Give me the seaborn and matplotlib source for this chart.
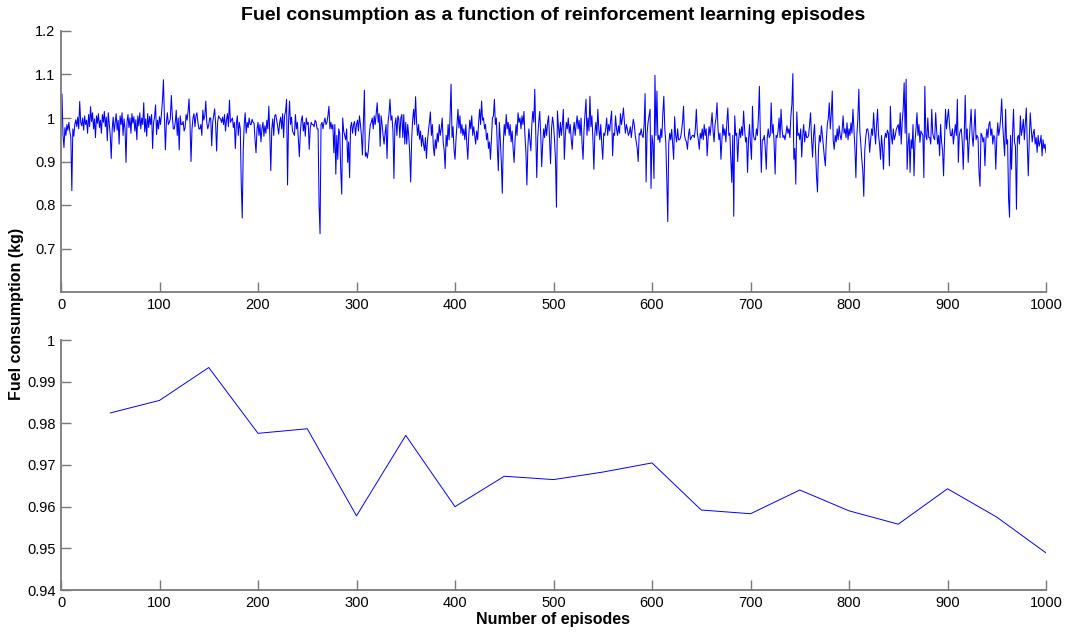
import numpy as np
import pandas as pd
import matplotlib
matplotlib.use("Agg")
import matplotlib.pyplot as plt
import seaborn as sns

# Fuel used in each training episode, in grams (episodes 1..1000)
fuel_per_episode_g = [
    1055, 962, 932, 978, 960, 985, 972, 990, 968, 955,
    833, 975, 958, 985, 996, 980, 1002, 975, 1038, 990,
    982, 1000, 972, 1005, 985, 995, 965, 1008, 980, 1026,
    992, 1012, 975, 998, 955, 1005, 988, 1010, 978, 995,
    965, 1008, 990, 1015, 980, 1002, 948, 1012, 985, 960,
    907, 975, 1002, 968, 990, 1010, 972, 995, 940, 1005,
    985, 1012, 960, 998, 975, 898, 990, 1008, 978, 1000,
    965, 1010, 988, 1003, 970, 996, 950, 1005, 982, 1012,
    975, 1000, 985, 1035, 968, 998, 958, 1010, 978, 1004,
    985, 1008, 930, 990, 1002, 1030, 962, 995, 975, 1003,
    985, 1010, 1040, 1088, 1000, 927, 990, 1012, 985, 990,
    998, 1052, 1005, 975, 975, 990, 1018, 960, 1000, 927,
    1005, 985, 985, 992, 970, 978, 1008, 995, 1015, 1044,
    985, 900, 975, 1000, 1010, 980, 1005, 1012, 990, 975,
    975, 985, 960, 1018, 995, 1005, 1039, 990, 975, 985,
    1000, 1000, 936, 990, 1005, 1021, 985, 924, 990, 1005,
    1000, 998, 990, 1002, 985, 1008, 970, 995, 1010, 980,
    1041, 990, 995, 1000, 978, 990, 930, 985, 1005, 960,
    990, 975, 850, 770, 925, 985, 1012, 965, 990, 978,
    1000, 985, 985, 997, 990, 988, 950, 920, 975, 990,
    960, 985, 945, 975, 990, 958, 982, 965, 995, 975,
    1027, 960, 879, 975, 998, 960, 1005, 1008, 995, 980,
    963, 990, 1002, 975, 1010, 955, 1005, 1015, 1043, 846,
    990, 1039, 985, 1002, 970, 965, 960, 1008, 975, 990,
    950, 911, 968, 995, 1005, 970, 990, 958, 1000, 985,
    990, 928, 975, 990, 985, 985, 980, 995, 990, 975,
    975, 800, 734, 985, 990, 975, 990, 1000, 985, 990,
    1005, 1027, 975, 990, 975, 985, 920, 985, 871, 960,
    905, 975, 965, 880, 825, 1000, 970, 960, 950, 975,
    898, 945, 863, 980, 990, 965, 985, 992, 960, 985,
    995, 970, 1005, 985, 960, 915, 990, 1064, 912, 920,
    908, 925, 960, 985, 990, 1000, 975, 1005, 985, 1010,
    1035, 990, 1010, 935, 1005, 985, 960, 940, 965, 985,
    907, 990, 1010, 1043, 995, 1005, 970, 861, 985, 1000,
    960, 1005, 997, 955, 1000, 1008, 955, 1008, 940, 990,
    940, 985, 960, 920, 853, 950, 995, 1020, 985, 1049,
    990, 960, 985, 951, 970, 935, 960, 940, 925, 955,
    907, 945, 970, 990, 1014, 960, 985, 935, 913, 950,
    930, 965, 945, 985, 960, 975, 1000, 945, 925, 884,
    960, 935, 985, 950, 1005, 1078, 955, 980, 928, 905,
    950, 985, 1020, 977, 1005, 965, 985, 960, 975, 950,
    985, 940, 905, 960, 995, 975, 1005, 960, 980, 960,
    940, 970, 950, 990, 1020, 985, 1039, 995, 1000, 975,
    985, 950, 965, 930, 945, 905, 950, 1000, 1005, 1043,
    985, 1000, 930, 879, 990, 950, 900, 827, 940, 985,
    960, 1008, 975, 990, 960, 985, 945, 970, 930, 898,
    950, 985, 960, 1012, 990, 1000, 975, 1005, 985, 1015,
    960, 920, 846, 935, 975, 950, 925, 985, 1015, 990,
    1066, 960, 863, 955, 990, 1015, 965, 888, 940, 975,
    955, 985, 960, 990, 1005, 950, 895, 975, 1002, 985,
    951, 905, 795, 1016, 980, 955, 990, 960, 985, 1020,
    905, 960, 990, 975, 1000, 965, 985, 950, 928, 970,
    990, 960, 985, 1005, 975, 995, 960, 1000, 940, 905,
    975, 1010, 1043, 960, 1000, 970, 1050, 980, 1005, 950,
    882, 965, 990, 960, 1020, 975, 950, 985, 940, 905,
    965, 960, 975, 1000, 960, 985, 970, 995, 1016, 913,
    965, 960, 1005, 975, 960, 982, 965, 1010, 985, 1000,
    1023, 990, 965, 985, 975, 960, 966, 980, 955, 975,
    997, 985, 960, 945, 930, 900, 965, 961, 975, 960,
    955, 985, 1056, 853, 965, 990, 1005, 1020, 838, 960,
    940, 861, 1098, 960, 1062, 950, 960, 944, 975, 955,
    1010, 1050, 975, 945, 860, 762, 940, 965, 950, 974,
    940, 905, 1003, 960, 945, 975, 950, 950, 955, 970,
    990, 1027, 960, 950, 945, 928, 960, 975, 950, 955,
    960, 960, 955, 975, 1020, 965, 950, 928, 965, 953,
    975, 950, 985, 960, 975, 913, 955, 980, 960, 985,
    1012, 970, 945, 985, 1000, 1035, 975, 950, 965, 905,
    950, 985, 960, 975, 945, 990, 1023, 960, 965, 905,
    852, 960, 774, 1005, 960, 965, 900, 950, 975, 955,
    980, 960, 1016, 975, 945, 955, 875, 950, 985, 940,
    905, 1027, 960, 950, 950, 975, 960, 1000, 1073, 960,
    875, 950, 950, 960, 930, 882, 955, 975, 955, 960,
    1035, 965, 985, 940, 871, 960, 955, 970, 1000, 955,
    1020, 975, 955, 960, 950, 965, 982, 965, 975, 955,
    1005, 1031, 1102, 905, 930, 848, 1014, 960, 965, 950,
    975, 910, 960, 985, 945, 970, 955, 955, 960, 985,
    1012, 950, 910, 960, 985, 930, 867, 830, 925, 960,
    945, 982, 960, 935, 910, 890, 950, 985, 1000, 1035,
    975, 1010, 1062, 948, 928, 960, 945, 975, 950, 982,
    960, 950, 970, 1005, 965, 975, 955, 989, 950, 975,
    960, 989, 965, 1020, 975, 930, 863, 960, 1000, 1066,
    970, 940, 905, 880, 820, 925, 955, 974, 975, 960,
    921, 950, 975, 960, 1012, 970, 940, 985, 1020, 960,
    940, 905, 960, 930, 882, 950, 965, 955, 972, 965,
    890, 1027, 960, 940, 975, 950, 960, 974, 980, 985,
    960, 1012, 940, 990, 1020, 1081, 965, 1089, 882, 940,
    965, 875, 950, 930, 985, 867, 945, 975, 1012, 960,
    985, 944, 970, 965, 960, 863, 1073, 960, 950, 1000,
    955, 955, 940, 1020, 965, 955, 950, 1012, 970, 940,
    960, 913, 985, 945, 925, 867, 950, 1020, 975, 1000,
    1020, 985, 960, 959, 975, 940, 965, 985, 960, 1043,
    898, 960, 971, 975, 945, 882, 960, 1052, 950, 975,
    898, 945, 985, 1020, 960, 935, 975, 1020, 950, 960,
    955, 875, 843, 965, 960, 945, 955, 890, 950, 975,
    955, 985, 992, 960, 975, 940, 960, 955, 882, 950,
    989, 960, 975, 1000, 1044, 985, 950, 913, 1020, 940,
    950, 814, 772, 960, 882, 960, 1020, 945, 935, 790,
    955, 960, 940, 1005, 960, 975, 997, 950, 985, 1023,
    940, 867, 950, 1012, 975, 945, 965, 974, 940, 955,
    921, 960, 935, 944, 960, 913, 950, 930, 940, 920,
]

# Average fuel over each block of 50 episodes
block_end_episode = [50, 100, 150, 200, 250, 300, 350, 400, 450, 500,
                     550, 600, 650, 700, 750, 800, 850, 900, 950, 1000]
block_mean_fuel_kg = [0.9825, 0.9855, 0.9934, 0.9776, 0.9787, 0.9578, 0.9771,
                      0.9600, 0.9673, 0.9665, 0.9683, 0.9705, 0.9592, 0.9583,
                      0.9640, 0.9590, 0.9558, 0.9643, 0.9575, 0.9489]

x_ticks = [0, 100, 200, 300, 400, 500, 600, 700, 800, 900, 1000]
top_y_ticks = [0.7, 0.8, 0.9, 1.0, 1.1, 1.2]
top_y_labels = ["0.7", "0.8", "0.9", "1", "1.1", "1.2"]
bottom_y_ticks = [0.94, 0.95, 0.96, 0.97, 0.98, 0.99, 1.0]
bottom_y_labels = ["0.94", "0.95", "0.96", "0.97", "0.98", "0.99", "1"]

episodes_df = pd.DataFrame({
    "episode": np.arange(1, len(fuel_per_episode_g) + 1),
    "fuel": np.array(fuel_per_episode_g) / 1000.0,
})
blocks_df = pd.DataFrame({"episode": block_end_episode, "fuel": block_mean_fuel_kg})

sns.set_style("ticks")
plt.rcParams["font.family"] = ["Liberation Sans", "DejaVu Sans"]
plt.rcParams["text.color"] = "black"
plt.rcParams["axes.labelcolor"] = "black"

fig = plt.figure(figsize=(10.65, 6.32), dpi=100)
ax_top = fig.add_axes([61 / 1065, 1 - 292 / 632, 985 / 1065, 261 / 632])
ax_bot = fig.add_axes([61 / 1065, 1 - 590 / 632, 985 / 1065, 250 / 632])

sns.lineplot(data=episodes_df, x="episode", y="fuel", ax=ax_top,
             color="#0000ff", linewidth=0.75, estimator=None)
sns.lineplot(data=blocks_df, x="episode", y="fuel", ax=ax_bot,
             color="#0000ff", linewidth=0.7, estimator=None)

axis_grey = "#7a7a7a"
for ax in (ax_top, ax_bot):
    ax.set_xlim(0, 1000)
    ax.set_xticks(x_ticks)
    ax.set_xticklabels([str(t) for t in x_ticks])
    for side in ("top", "right"):
        ax.spines[side].set_visible(False)
    for side in ("left", "bottom"):
        ax.spines[side].set_color(axis_grey)
        ax.spines[side].set_linewidth(1.3)
    ax.tick_params(direction="in", length=7, width=1.0, color=axis_grey,
                   labelsize=10.5, labelcolor="black", pad=4)
    ax.set_xlabel("")
    ax.set_ylabel("")
    ax.set_facecolor("white")

ax_top.set_ylim(0.6, 1.2)
ax_top.set_yticks(top_y_ticks)
ax_top.set_yticklabels(top_y_labels)

ax_bot.set_ylim(0.94, 1.0)
ax_bot.set_yticks(bottom_y_ticks)
ax_bot.set_yticklabels(bottom_y_labels)

ax_top.set_title("Fuel consumption as a function of reinforcement learning episodes",
                 fontsize=14, fontweight="bold", pad=8, color="black")
ax_bot.set_xlabel("Number of episodes", fontsize=11.5, fontweight="bold",
                  labelpad=2, color="black")
fig.text(17 / 1065, 1 - 314 / 632, "Fuel consumption (kg)", rotation=90,
         ha="center", va="center", fontsize=11.5, fontweight="bold", color="black")

fig.savefig("out.png", dpi=100, facecolor="white")
